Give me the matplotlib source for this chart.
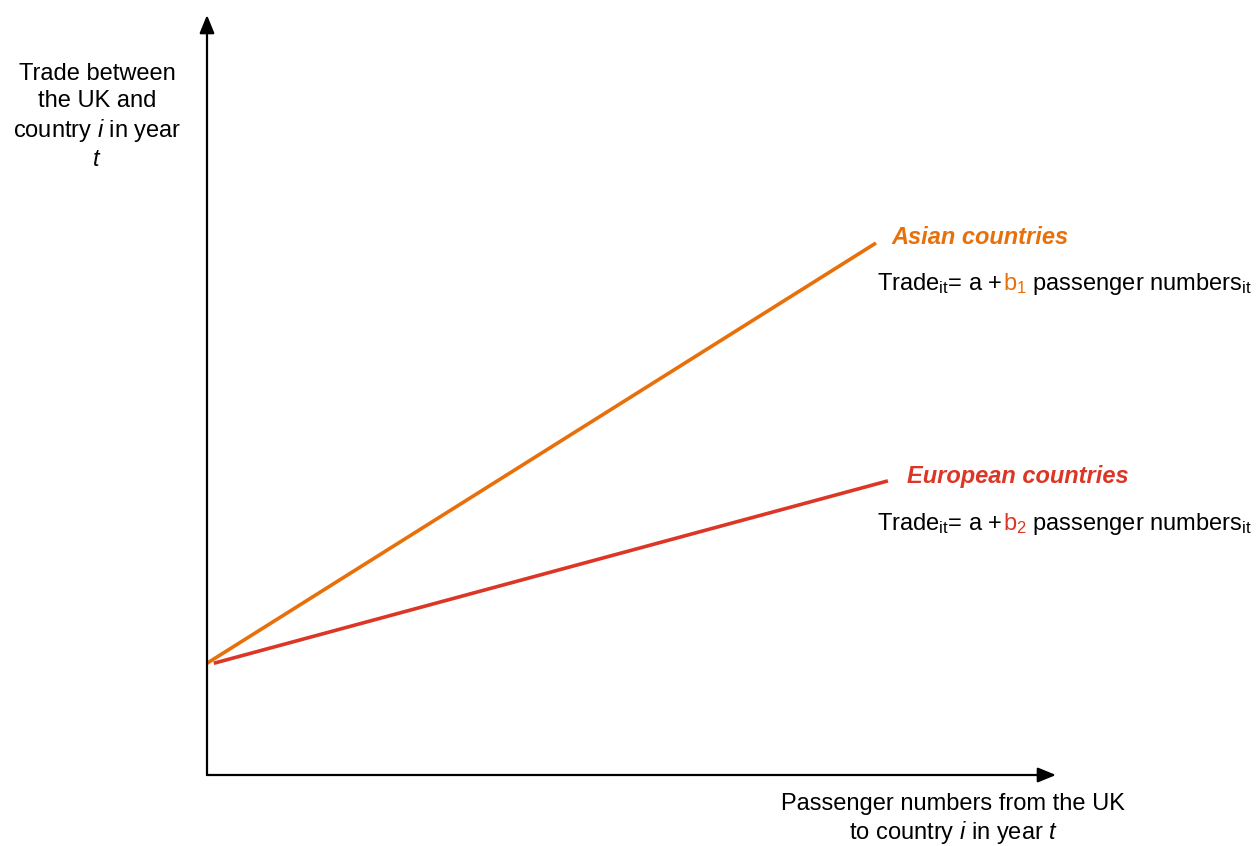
import matplotlib
matplotlib.use("Agg")
import matplotlib.pyplot as plt

plt.rcParams['font.family'] = ['Liberation Sans', 'DejaVu Sans']
plt.rcParams['mathtext.fontset'] = 'custom'
plt.rcParams['mathtext.rm'] = 'Liberation Sans'
plt.rcParams['mathtext.it'] = 'Liberation Sans:italic'
plt.rcParams['mathtext.bf'] = 'Liberation Sans:bold'

# Data (schematic, axis units 0-100)
series_names = ["Asian countries", "European countries"]
asian_x = [0.0, 78.8]
asian_y = [14.7, 70.0]
euro_x = [0.8, 80.2]
euro_y = [14.7, 38.7]

ORANGE = '#E8700A'
RED = '#DB3626'

W, H = 1256, 846
fig = plt.figure(figsize=(W / 100, H / 100), dpi=100)

def fx(px):
    return px / W

def fy(py):
    return 1 - py / H

ax_left, ax_right, ax_top, ax_bottom = 207, 1056, 15, 775
ax = fig.add_axes([fx(ax_left), fy(ax_bottom), fx(ax_right - ax_left), (ax_bottom - ax_top) / H])
ax.set_xlim(0, 100)
ax.set_ylim(0, 100)
ax.axis('off')

ax.plot(asian_x, asian_y, color=ORANGE, lw=2.6, solid_capstyle='butt', clip_on=False)
ax.plot(euro_x, euro_y, color=RED, lw=2.6, solid_capstyle='butt', clip_on=False)

arrow = dict(arrowstyle='-|>,head_length=1.1,head_width=0.45', color='black', lw=1.6,
             shrinkA=0, shrinkB=0)
ax.annotate('', xy=(100, 0), xytext=(0, 0), arrowprops=arrow, annotation_clip=False)
ax.annotate('', xy=(0, 100), xytext=(0, 0), arrowprops=arrow, annotation_clip=False)

FS = 17
# y label
fig.text(fx(97), fy(117), "Trade between\nthe UK and\ncountry $i$ in year\n$t$",
         ha='center', va='center', fontsize=FS, linespacing=1.27)
# x label
fig.text(fx(953), fy(819), "Passenger numbers from the UK\nto country $i$ in year $t$",
         ha='center', va='center', fontsize=FS, linespacing=1.2)

# series labels
fig.text(fx(891), fy(237), series_names[0], color=ORANGE, fontsize=FS, fontweight='bold',
         fontstyle='italic', va='center', ha='left')
fig.text(fx(907), fy(476), series_names[1], color=RED, fontsize=FS, fontweight='bold',
         fontstyle='italic', va='center', ha='left')

renderer = fig.canvas.get_renderer()

def chain(x0, ybase, pieces):
    x = x0
    for s, c in pieces:
        t = fig.text(fx(x), fy(ybase), s, color=c, fontsize=FS, va='baseline', ha='left')
        bb = t.get_window_extent(renderer)
        x += bb.width
    return x

chain(877, 290, [("Trade$_{\\mathrm{it}}$= a +", 'black'), ("b$_{1}$", ORANGE),
                 (" passenger numbers$_{\\mathrm{it}}$", 'black')])
chain(877, 530, [("Trade$_{\\mathrm{it}}$= a +", 'black'), ("b$_{2}$", RED),
                 (" passenger numbers$_{\\mathrm{it}}$", 'black')])

fig.savefig("out.png", dpi=100)
